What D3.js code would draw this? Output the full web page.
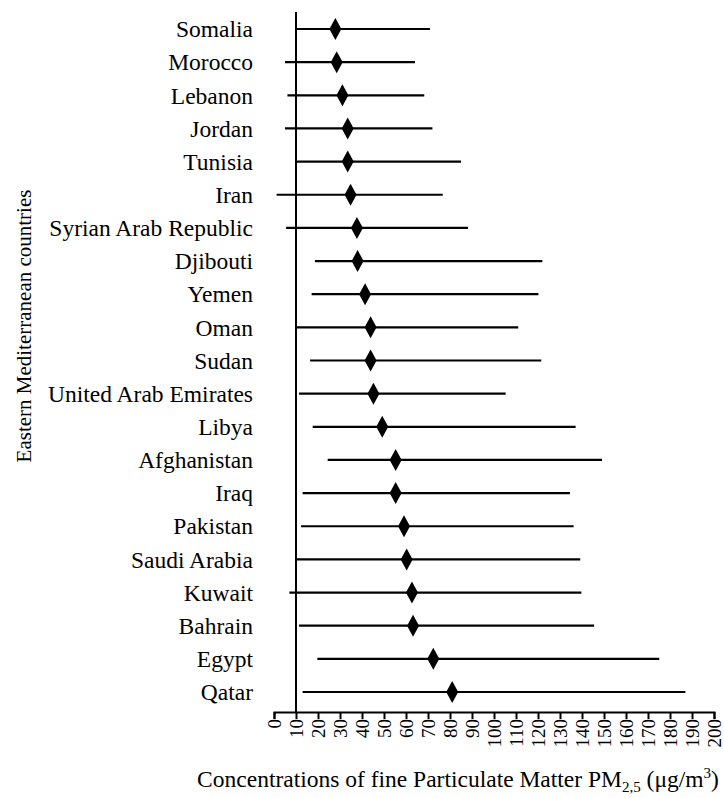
<!DOCTYPE html>
<html>
<head>
<meta charset="utf-8">
<script src="https://cdn.jsdelivr.net/npm/d3@7"></script>
<style>
  body { margin: 0; background: #fff; }
  text { font-family: "Liberation Serif", "Times New Roman", serif; fill: #000; }
</style>
</head>
<body>
<div id="chart"></div>
<script>
// countries top to bottom
const countries = ["Somalia", "Morocco", "Lebanon", "Jordan", "Tunisia", "Iran",
  "Syrian Arab Republic", "Djibouti", "Yemen", "Oman", "Sudan", "United Arab Emirates",
  "Libya", "Afghanistan", "Iraq", "Pakistan", "Saudi Arabia", "Kuwait", "Bahrain",
  "Egypt", "Qatar"];
const meanValues = [27.9, 28.5, 31.1, 33.5, 33.5, 34.8, 37.7, 38, 41.4, 43.9, 43.9, 45.2,
  49.2, 55.3, 55.3, 59.1, 60.3, 62.7, 63.2, 72.4, 81];
const minValues = [10, 5, 6.1, 5, 10, 1.2, 5.5, 18.6, 17.1, 10, 16.4, 11.4,
  17.6, 24.4, 13, 12.3, 10, 7, 11.4, 19.7, 13];
const maxValues = [70.9, 64.1, 68.3, 72, 85, 76.7, 88.2, 122, 120.2, 111, 121.5, 105.3,
  137.1, 149.1, 134.5, 136.2, 139.2, 139.7, 145.5, 175.1, 187];
const xTicks = d3.range(0, 201, 10);

const width = 724, height = 798;
const svg = d3.select("#chart").append("svg")
  .attr("width", width)
  .attr("height", height);

const x = d3.scaleLinear().domain([0, 200]).range([274, 714]);
const y = d3.scalePoint().domain(countries).range([29, 692]);
const axisY = 712;

// x axis
const xAxis = svg.append("g")
  .attr("transform", `translate(0,${axisY})`)
  .call(d3.axisBottom(x).tickValues(xTicks).tickSize(7).tickSizeOuter(7).tickFormat(d3.format("d")));
xAxis.select(".domain").attr("stroke", "#000").attr("stroke-width", 2);
xAxis.selectAll(".tick line").attr("stroke", "#000").attr("stroke-width", 2);
xAxis.selectAll("text")
  .attr("transform", "rotate(-90)")
  .attr("text-anchor", "end")
  .attr("x", -7)
  .attr("y", 0)
  .attr("dy", "0.35em")
  .style("font-size", "19px")
  .style("font-family", "Liberation Serif");

// vertical axis line crosses at 10
svg.append("line")
  .attr("x1", x(10)).attr("x2", x(10))
  .attr("y1", 12).attr("y2", axisY)
  .attr("stroke", "#000").attr("stroke-width", 2);

// category labels
svg.append("g").selectAll("text")
  .data(countries)
  .join("text")
  .attr("x", 253)
  .attr("y", d => y(d))
  .attr("dy", "0.35em")
  .attr("text-anchor", "end")
  .style("font-size", "23.5px")
  .text(d => d);

// range lines
const rows = countries.map((c, i) => ({ name: c, mean: meanValues[i], lo: minValues[i], hi: maxValues[i] }));
svg.append("g").selectAll("line")
  .data(rows)
  .join("line")
  .attr("x1", d => x(d.lo))
  .attr("x2", d => x(d.hi))
  .attr("y1", d => y(d.name))
  .attr("y2", d => y(d.name))
  .attr("stroke", "#000")
  .attr("stroke-width", 2.2);

// diamonds
svg.append("g").selectAll("path")
  .data(rows)
  .join("path")
  .attr("transform", d => `translate(${x(d.mean)},${y(d.name)})`)
  .attr("d", "M0,-11L6,0L0,11L-6,0Z")
  .attr("fill", "#000");

// axis titles
const xTitle = svg.append("text")
  .attr("x", 458)
  .attr("y", 787)
  .attr("text-anchor", "middle")
  .style("font-size", "23.5px");
xTitle.append("tspan").text("Concentrations of fine Particulate Matter PM");
xTitle.append("tspan").attr("dy", 5).style("font-size", "15px").text("2,5");
xTitle.append("tspan").attr("dy", -5).text(" (μg/m");
xTitle.append("tspan").attr("dy", -9).style("font-size", "15px").text("3");
xTitle.append("tspan").attr("dy", 9).text(")");

svg.append("text")
  .attr("transform", "translate(31,326) rotate(-90)")
  .attr("text-anchor", "middle")
  .style("font-size", "21px")
  .text("Eastern Mediterranean countries");
</script>
</body>
</html>
